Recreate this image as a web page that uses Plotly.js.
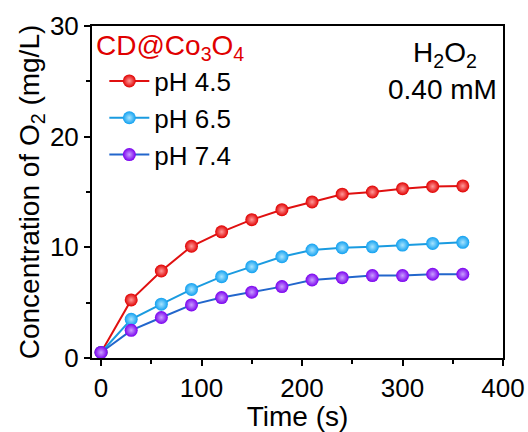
<!DOCTYPE html>
<html>
<head>
<meta charset="utf-8">
<script src="https://cdn.plot.ly/plotly-3.0.1.min.js"></script>
<style>html,body{margin:0;padding:0;background:#fff;}#chart{width:528px;height:432px;}</style>
</head>
<body>
<div id="chart"></div>
<script>
var time = [0, 30, 60, 90, 120, 150, 180, 210, 240, 270, 300, 330, 360];
var ph45 = [0.5, 5.25, 7.86, 10.1, 11.4, 12.5, 13.4, 14.1, 14.8, 15.0, 15.3, 15.5, 15.55];
var ph65 = [0.5, 3.5, 4.86, 6.2, 7.35, 8.25, 9.15, 9.76, 9.97, 10.05, 10.2, 10.35, 10.45];
var ph74 = [0.5, 2.5, 3.66, 4.8, 5.46, 5.95, 6.45, 7.05, 7.26, 7.45, 7.45, 7.57, 7.57];
var seriesNames = ['pH 4.5', 'pH 6.5', 'pH 7.4'];
var xTicks = [0, 100, 200, 300, 400];
var yTicks = [0, 10, 20, 30];

var F = 'Liberation Sans, Arial, sans-serif';
function tr(y, name, lineColor, markColor, hiColor) {
  return {
    x: time, y: y, name: name, type: 'scatter', mode: 'lines+markers',
    line: {color: lineColor, width: 2},
    marker: {size: 13, color: markColor, gradient: {type: 'radial', color: hiColor}, line: {width: 0}},
    cliponaxis: false
  };
}
var data = [
  tr(ph45, seriesNames[0], '#e01010', '#e00000', '#ff9a9a'),
  tr(ph65, seriesNames[1], '#1a9be0', '#10a0f0', '#a8e4ff'),
  tr(ph74, seriesNames[2], '#2266cc', '#7a00ee', '#c9a0ff')
];
var axisCommon = {
  showline: true, linecolor: '#000', linewidth: 2, mirror: true,
  ticks: 'outside', ticklen: 6, tickwidth: 2, tickcolor: '#000',
  showgrid: false, zeroline: false,
  tickfont: {family: F, size: 26, color: '#000'},
  minor: {ticks: 'outside', ticklen: 4, tickwidth: 2, tickcolor: '#000', showgrid: false}
};
var layout = {
  width: 528, height: 432,
  margin: {l: 92, r: 25, t: 26, b: 74},
  paper_bgcolor: '#fff', plot_bgcolor: '#fff',
  showlegend: true,
  legend: {
    x: 0.03, y: 0.905, xanchor: 'left', yanchor: 'top',
    bgcolor: 'rgba(0,0,0,0)', font: {family: F, size: 26, color: '#000'},
    tracegroupgap: 0, itemwidth: 40
  },
  xaxis: Object.assign({}, axisCommon, {
    range: [-9, 400], tickvals: xTicks, ticktext: xTicks.map(String),
    minor: Object.assign({}, axisCommon.minor, {dtick: 50, tick0: 0}),
    title: {text: 'Time (s)', font: {family: F, size: 28, color: '#000'}, standoff: 2}
  }),
  yaxis: Object.assign({}, axisCommon, {
    range: [0, 30], tickvals: yTicks, ticktext: yTicks.map(String),
    minor: Object.assign({}, axisCommon.minor, {dtick: 5, tick0: 0}),
    title: {text: 'Concentration of O<sub>2</sub> (mg/L)', font: {family: F, size: 28, color: '#000'}, standoff: 2}
  }),
  annotations: [
    {xref: 'paper', yref: 'paper', x: 0.005, y: 0.935, xanchor: 'left', yanchor: 'middle', showarrow: false,
     text: 'CD@Co<sub>3</sub>O<sub>4</sub>', font: {family: F, size: 28, color: '#e00000'}},
    {xref: 'paper', yref: 'paper', x: 0.86, y: 0.915, xanchor: 'center', yanchor: 'middle', showarrow: false,
     text: 'H<sub>2</sub>O<sub>2</sub>', font: {family: F, size: 28, color: '#000'}},
    {xref: 'paper', yref: 'paper', x: 0.99, y: 0.81, xanchor: 'right', yanchor: 'middle', showarrow: false,
     text: '0.40 mM', font: {family: F, size: 28, color: '#000'}}
  ]
};
Plotly.newPlot('chart', data, layout, {displayModeBar: false, staticPlot: true});
</script>
</body>
</html>
